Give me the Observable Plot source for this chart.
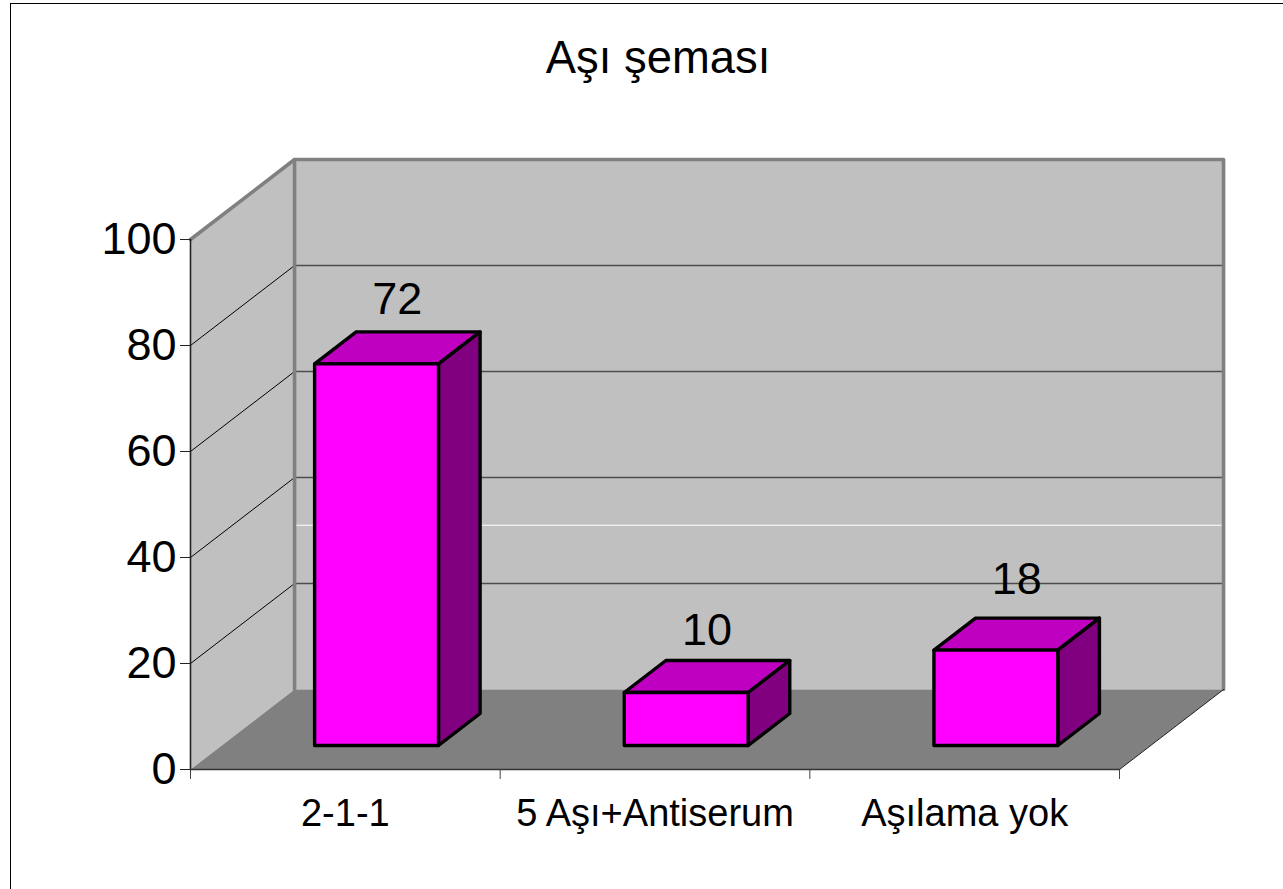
<!DOCTYPE html>
<html lang="tr">
<head>
<meta charset="utf-8">
<script src="https://cdn.jsdelivr.net/npm/d3@7"></script>
<script src="https://cdn.jsdelivr.net/npm/@observablehq/plot@0.6"></script>
<style>
  html, body { margin: 0; padding: 0; background: #fff; overflow: hidden; }
  body { width: 1283px; height: 889px; position: relative; font-family: "Liberation Sans", Arial, sans-serif; }
  #frame { position: absolute; left: 10px; top: 3px; right: 0; bottom: 0; border-left: 1px solid #000; border-top: 1px solid #000; pointer-events: none; }
  #title { height: 100px; width: 1283px; box-sizing: border-box; padding-left: 33px; padding-top: 33px; text-align: center; font-size: 45.4px; line-height: 50px; color: #000; }
  #chart svg { display: block; overflow: visible; background: transparent; }
</style>
</head>
<body>
<div id="frame"></div>
<div id="title">Aşı şeması</div>
<div id="chart"></div>
<script>
const categories = ["2-1-1", "5 Aşı+Antiserum", "Aşılama yok"];
const values = [72, 10, 18];
const yTicks = [0, 20, 40, 60, 80, 100];

// Oblique projection of the 3D chart space into the x / y scales
const depthX = 0.336, depthY = 15.09;
const at = (c, v, d) => ({x: c + d * depthX, y: v + d * depthY});
const poly = (pts, o) => Plot.line(pts, {x: "x", y: "y", curve: "linear-closed", strokeLinejoin: "round", ...o});
const seg = (pts, o) => Plot.line(pts, {x: "x", y: "y", ...o});

const nCat = categories.length;
const maxV = 100;

const marks = [
  // walls and floor
  poly([at(0,0,0), at(0,maxV,0), at(0,maxV,1), at(0,0,1)], {fill: "#c0c0c0", stroke: "none"}),
  poly([at(0,0,1), at(0,maxV,1), at(nCat,maxV,1), at(nCat,0,1)], {fill: "#c0c0c0", stroke: "none"}),
  poly([at(0,0,0), at(nCat,0,0), at(nCat,0,1), at(0,0,1)], {fill: "#808080", stroke: "none"}),

  // gridlines
  ...yTicks.filter(t => t > 0 && t < maxV).flatMap(t => [
    seg([at(0,t,0), at(0,t,1)], {stroke: "#000", strokeWidth: 1}),
    seg([at(0,t,1), at(nCat,t,1)], {stroke: "#4d4d4d", strokeWidth: 1.4})
  ]),
  seg([at(0,31,1), at(nCat,31,1)], {stroke: "#fff", strokeWidth: 1}),

  // wall edges
  seg([at(0,maxV,0), at(0,maxV,1), at(nCat,maxV,1), at(nCat,0,1)], {stroke: "#808080", strokeWidth: 3.6}),
  seg([at(0,maxV,1), at(0,0,1)], {stroke: "#808080", strokeWidth: 3.6}),
  seg([at(nCat,0,0), at(nCat,0,1)], {stroke: "#222", strokeWidth: 1}),

  // axes
  Plot.axisX({ticks: d3.range(nCat + 1), tickSize: 10, tickFormat: () => "", stroke: "#444", label: null}),
  Plot.axisX({ticks: categories.map((_, i) => i + 0.5), tickSize: 0, tickPadding: 30, fontSize: 38,
              tickFormat: t => categories[t - 0.5], fill: "#000", label: null}),
  Plot.axisY({ticks: yTicks, tickSize: 10, tickPadding: 4, fontSize: 45, stroke: "#222", fill: "#000", label: null}),
  seg([at(0,0,0), at(0,maxV,0)], {stroke: "#222", strokeWidth: 1.6}),
  seg([at(0,0,0), at(nCat,0,0)], {stroke: "#333", strokeWidth: 1.4}),

  // 3D bars
  ...values.flatMap((v, i) => {
    const a = i + 0.3, b = i + 0.7, d0 = 0.3, d1 = 0.7;
    const style = {stroke: "#000", strokeWidth: 3.4};
    return [
      poly([at(a,v,d0), at(a,v,d1), at(b,v,d1), at(b,v,d0)], {fill: "#c000c0", ...style}),
      poly([at(b,0,d0), at(b,v,d0), at(b,v,d1), at(b,0,d1)], {fill: "#800080", ...style}),
      poly([at(a,0,d0), at(a,v,d0), at(b,v,d0), at(b,0,d0)], {fill: "#ff00ff", ...style})
    ];
  }),

  // value labels (the source chart places each label a little differently)
  ...values.map((v, i) => Plot.text([{x: at(i + 0.5, v, 0.5).x, y: at(i + 0.5, v, 0.7).y, label: String(v)}], {
    x: "x", y: "y", text: "label", fontSize: 45, fill: "#000", textAnchor: "middle", lineAnchor: "bottom",
    dy: i === 2 ? -24 : i === 1 ? -16 : -18
  }))
];

const chart = Plot.plot({
  width: 1283,
  height: 789,
  marginLeft: 190,
  marginRight: 164,
  marginTop: 139,
  marginBottom: 120,
  style: {fontFamily: '"Liberation Sans", Arial, sans-serif', background: "transparent", overflow: "visible"},
  x: {type: "linear", domain: [0, nCat], axis: null},
  y: {type: "linear", domain: [0, maxV], axis: null},
  marks
});
document.getElementById("chart").appendChild(chart);
</script>
</body>
</html>
